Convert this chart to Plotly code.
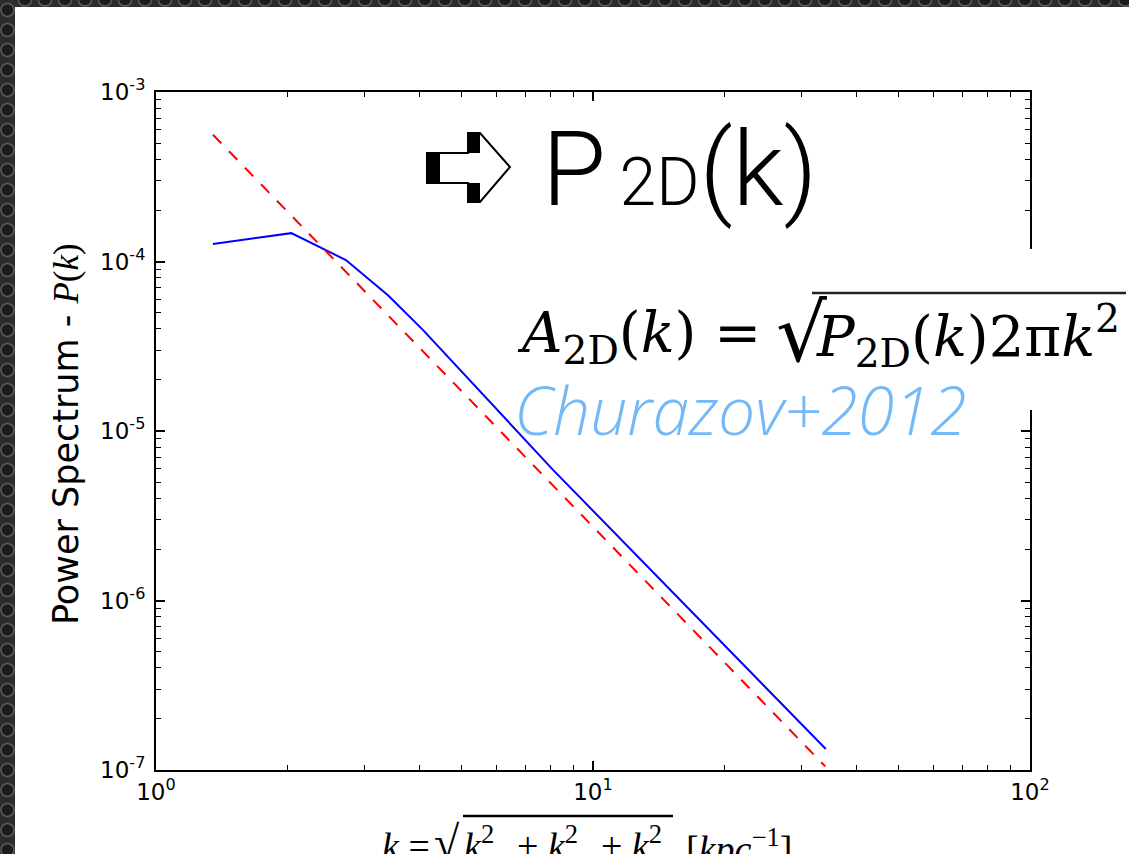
import plotly.graph_objects as go

# ---------------- data ----------------
k_sim = [1.35, 2.04, 2.72, 3.40, 4.08, 8.1, 34.1]
p_sim = [1.27e-4, 1.47e-4, 1.02e-4, 6.3e-5, 3.95e-5, 5.9e-6, 1.33e-7]
k_fit = [1.35, 34.0]
p_fit = [5.6e-4, 1.05e-7]

x_tickvals = [1, 10, 100]
x_ticktext = ["10<sup>0</sup>", "10<sup>1</sup>", "10<sup>2</sup>"]
y_tickvals = [1e-7, 1e-6, 1e-5, 1e-4, 1e-3]
y_ticktext = ["10<sup>-7</sup>", "10<sup>-6</sup>", "10<sup>-5</sup>",
              "10<sup>-4</sup>", "10<sup>-3</sup>"]

# ---------------- geometry ----------------
W, H = 1129, 854
L, R, T, B = 156, 1030, 92, 770


def px(x):
    return (x - L) / (R - L)


def py(y):
    return (B - y) / (B - T)


fig = go.Figure()
fig.add_trace(go.Scatter(x=k_sim, y=p_sim, mode="lines",
                         line=dict(color="#0000ff", width=2), showlegend=False))
fig.add_trace(go.Scatter(x=k_fit, y=p_fit, mode="lines",
                         line=dict(color="#ff0000", width=2, dash="12px,11px"),
                         showlegend=False))

tickfont = dict(family="DejaVu Sans", size=23, color="black")
axis_common = dict(type="log", showgrid=False, zeroline=False,
                   showline=True, linecolor="black", linewidth=2,
                   mirror="allticks", ticks="inside", ticklen=9, tickwidth=1.5,
                   tickcolor="black", tickfont=tickfont,
                   minor=dict(ticks="inside", ticklen=5, tickwidth=1,
                              tickcolor="black", dtick="D1", showgrid=False))

fig.update_xaxes(range=[0, 2], tickmode="array", tickvals=x_tickvals,
                 ticktext=x_ticktext, **axis_common)
fig.update_yaxes(range=[-7, -3], tickmode="array", tickvals=y_tickvals,
                 ticktext=y_ticktext, ticklabelstandoff=4, **axis_common)

shapes = []
# white slide over the dark textured background
shapes.append(dict(type="rect", xref="paper", yref="paper", layer="below",
                   x0=px(15), x1=px(W + 5), y0=py(7), y1=py(H + 5),
                   fillcolor="white", line=dict(width=0)))
for i in range(44):
    cy = 10 + 20 * i
    shapes.append(dict(type="circle", xref="paper", yref="paper", layer="below",
                       x0=px(1), x1=px(14), y0=py(cy - 6.5), y1=py(cy + 6.5),
                       fillcolor="#1c1c1c", line=dict(color="#5c5c5c", width=1.5)))
for i in range(58):
    cx = 25 + 20 * i
    shapes.append(dict(type="circle", xref="paper", yref="paper", layer="below",
                       x0=px(cx - 6.5), x1=px(cx + 6.5), y0=py(-5), y1=py(6),
                       fillcolor="#1c1c1c", line=dict(color="#5c5c5c", width=1.5)))

# white box of the pasted formula covering the right spine
shapes.append(dict(type="rect", xref="paper", yref="paper", layer="above",
                   x0=px(508), x1=px(W + 5), y0=py(249), y1=py(410),
                   fillcolor="white", line=dict(width=0)))

# arrow symbol (white arrow with black drop shadow)
arrow_pts = [(427, 153), (468, 153), (468, 133), (480, 133), (510, 167),
             (480, 202), (468, 202), (468, 183), (427, 183)]
path = "M " + " L ".join(f"{px(x):.5f},{py(y):.5f}" for x, y in arrow_pts) + " Z"
shapes.append(dict(type="path", xref="paper", yref="paper", layer="above",
                   path=path, fillcolor="white", line=dict(color="black", width=2)))
for (x0, y0, x1, y1) in [(427, 153, 440, 183), (468, 133, 480, 153),
                         (468, 183, 480, 202)]:
    shapes.append(dict(type="rect", xref="paper", yref="paper", layer="above",
                       x0=px(x0), x1=px(x1), y0=py(y0), y1=py(y1),
                       fillcolor="black", line=dict(width=0)))

# radical overlines
shapes.append(dict(type="line", xref="paper", yref="paper", layer="above",
                   x0=px(812), x1=px(1126), y0=py(293), y1=py(293),
                   line=dict(color="#222", width=2.5)))
shapes.append(dict(type="line", xref="paper", yref="paper", layer="above",
                   x0=px(463), x1=px(673), y0=py(816), y1=py(816),
                   line=dict(color="black", width=2.5)))

annotations = []


def ann(text, x, y, size, family, xanchor="left", yanchor="middle",
        color="black", angle=0, weight=None, style=None):
    f = dict(family=family, size=size, color=color)
    if weight is not None:
        f["weight"] = weight
    if style is not None:
        f["style"] = style
    annotations.append(dict(text=text, xref="paper", yref="paper",
                            x=px(x), y=py(y), xanchor=xanchor, yanchor=yanchor,
                            showarrow=False, font=f, textangle=angle))


# P2D(k) title
ann("P<span style='font-size:66px'>\u20092D</span>(k)", 540, 169, 104, "Roboto",
    weight=300)
# formula
ann("<i>A</i><sub>2D</sub>(<i>k</i>) = ", 515, 336, 56, "DejaVu Serif")
ann("√", 774, 333, 80, "DejaVu Serif")
ann("<i>P</i><sub>2D</sub>(<i>k</i>)2π<i>k</i><sup>2</sup>", 814, 336, 56,
    "DejaVu Serif")
# citation
ann("Churazov+2012", 512, 409, 66, "Open Sans", color="#74b9f7", weight=300,
    style="italic")
# y title
ann("Power Spectrum - <span style='font-family:Liberation Serif'><i>P</i>(<i>k</i>)</span>",
    66, 434, 35, "DejaVu Sans", xanchor="center", angle=-90)
# x title (cut by the page bottom)
ann("<i>k</i> = ", 380, 846, 38, "Liberation Serif")
ann("√", 432, 842, 46, "Liberation Serif")
ann("<i>k</i><sup>2</sup><sub>x</sub> + <i>k</i><sup>2</sup><sub>y</sub> + "
    "<i>k</i><sup>2</sup><sub>z</sub>", 462, 846, 38, "Liberation Serif")
ann("[<i>kpc</i><sup>−1</sup>]", 684, 846, 38, "Liberation Serif")

fig.update_layout(width=W, height=H, autosize=False,
                  margin=dict(l=L, r=W - R, t=T, b=H - B, pad=0),
                  paper_bgcolor="#2c2c2c", plot_bgcolor="white",
                  shapes=shapes, annotations=annotations, showlegend=False)

fig.write_html("out.html")
